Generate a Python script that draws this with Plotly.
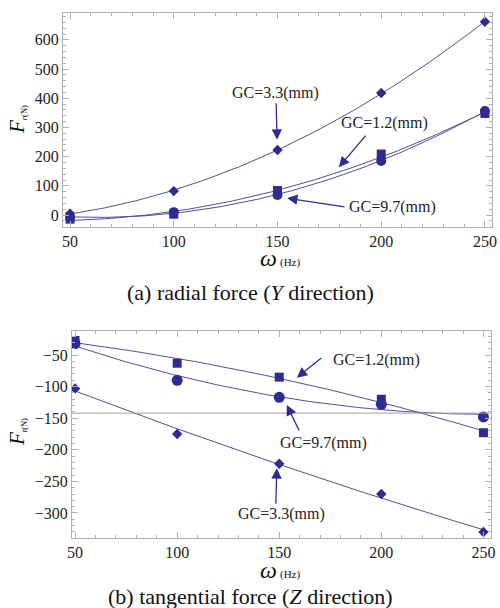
import numpy as np
import plotly.graph_objects as go

# ---- data ----
omega = [50, 100, 150, 200, 250]

radial_gc33 = [5, 82, 223, 418, 662]
radial_gc12 = [-14, 3, 84, 209, 348]
radial_gc97 = [-8, 10, 69, 185, 356]

tang_gc12 = [-27, -63, -85, -120, -173]
tang_gc97 = [-32, -90, -117, -128, -148]
tang_gc33 = [-103, -175, -222, -270, -330]

tang_origin = -142

series_labels = ["GC=3.3(mm)", "GC=1.2(mm)", "GC=9.7(mm)"]

MK = "#2d2d91"
LN = "#50509a"
FR = "#b0b0b0"
FONT = "Liberation Serif"

fig = go.Figure()

xfine = np.linspace(50, 250, 121)

def add_series(xa, ya, ys, symbol, size):
    c = np.polyfit(omega, ys, 2)
    fig.add_trace(go.Scatter(x=xfine, y=np.polyval(c, xfine), mode="lines",
                             line=dict(color=LN, width=1), xaxis=xa, yaxis=ya,
                             showlegend=False, hoverinfo="skip"))
    fig.add_trace(go.Scatter(x=omega, y=ys, mode="markers",
                             marker=dict(symbol=symbol, size=size, color=MK),
                             xaxis=xa, yaxis=ya, showlegend=False))

add_series("x", "y", radial_gc33, "diamond", 8)
add_series("x", "y", radial_gc12, "square", 9)
add_series("x", "y", radial_gc97, "circle", 10)

add_series("x2", "y2", tang_gc12, "square", 9)
add_series("x2", "y2", tang_gc97, "circle", 11)
add_series("x2", "y2", tang_gc33, "diamond", 8)

axis_common = dict(showgrid=False, zeroline=False, showline=True, linecolor=FR,
                   linewidth=1, mirror="allticks", ticks="inside", ticklen=6,
                   tickcolor=FR, tickfont=dict(family=FONT, size=16, color="#222"))

fig.update_layout(
    width=500, height=608,
    margin=dict(l=0, r=0, t=0, b=0, autoexpand=False),
    paper_bgcolor="white", plot_bgcolor="white",
    xaxis=dict(domain=[0.126, 0.984], range=[46.6, 253.4], anchor="y",
               tick0=50, dtick=50,
               minor=dict(dtick=10, ticks="inside", ticklen=3, tickcolor=FR),
               **axis_common),
    yaxis=dict(domain=[0.6266, 0.9786], range=[-41, 692], anchor="x",
               tick0=0, dtick=100,
               minor=dict(dtick=20, ticks="inside", ticklen=3, tickcolor=FR),
               **axis_common),
    xaxis2=dict(domain=[0.144, 0.982], range=[48.5, 253.7], anchor="y2",
                tick0=50, dtick=50,
                minor=dict(dtick=10, ticks="inside", ticklen=3, tickcolor=FR),
                **axis_common),
    yaxis2=dict(domain=[0.1151, 0.4556], range=[-339.6, -12], anchor="x2",
                tick0=0, dtick=50,
                minor=dict(dtick=10, ticks="inside", ticklen=3, tickcolor=FR),
                **axis_common),
)

fig.add_shape(type="line", xref="x2 domain", yref="y2", x0=0, x1=1,
              y0=tang_origin, y1=tang_origin, line=dict(color="#a0a0a0", width=1))

tf = dict(family=FONT, size=16, color="#222")

def label(xr, yr, x, y, text):
    fig.add_annotation(xref=xr, yref=yr, x=x, y=y, text=text, showarrow=False,
                       font=tf)

def arrow(xr, yr, x, y, ax, ay):
    fig.add_annotation(xref=xr, yref=yr, x=x, y=y, ax=ax, ay=ay, text="",
                       showarrow=True, arrowhead=2, arrowsize=1.6, arrowwidth=1.3,
                       arrowcolor=MK, axref="pixel", ayref="pixel")

# top panel annotations
label("x", "y", 148.8, 418, series_labels[0])
arrow("x", "y", 149.8, 258, -1, -38)
label("x", "y", 201.8, 315, series_labels[1])
arrow("x", "y", 179.6, 164, 28, -33)
label("x", "y", 205.5, 27, series_labels[2])
arrow("x", "y", 154.6, 58, 59, 9)

# bottom panel annotations
label("x2", "y2", 197.7, -58, series_labels[1])
arrow("x2", "y2", 158.6, -86, 26, -21)
label("x2", "y2", 171.8, -189, series_labels[2])
arrow("x2", "y2", 153.7, -129, 13, 27)
label("x2", "y2", 151.2, -301.6, series_labels[0])
arrow("x2", "y2", 148.8, -229, -1, 37)

# axis titles
def ptext(x, y, text, size, angle=0):
    fig.add_annotation(xref="paper", yref="paper", x=x, y=y, text=text,
                       showarrow=False, textangle=angle,
                       xanchor="center", yanchor="middle",
                       font=dict(family=FONT, size=size, color="#111"))

ptext(17 / 500, 1 - 120 / 608,
      "<i>F</i><span style='font-size:12px'><sub><i>r</i>(N)</sub></span>", 21, -90)
ptext(17 / 500, 1 - 432 / 608,
      "<i>F</i><span style='font-size:12px'><sub><i>t</i>(N)</sub></span>", 21, -90)

ptext(268 / 500, 1 - 258 / 608, "<i>ω</i>", 24)
ptext(290 / 500, 1 - 262 / 608, "(Hz)", 11)
ptext(268 / 500, 1 - 570 / 608, "<i>ω</i>", 24)
ptext(290 / 500, 1 - 574 / 608, "(Hz)", 11)

ptext(250 / 500, 1 - 293 / 608, "(a) radial force (<i>Y</i> direction)", 22)
ptext(250 / 500, 1 - 596 / 608, "(b) tangential force (<i>Z</i> direction)", 22)

fig.write_html("out.html")
